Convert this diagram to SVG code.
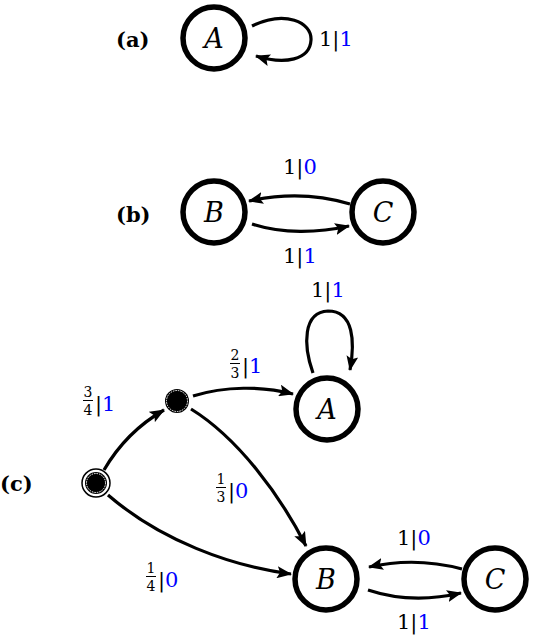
<svg xmlns="http://www.w3.org/2000/svg" width="540" height="638" viewBox="0 0 540 638">
<style>
.st{fill:#fff;stroke:#000;stroke-width:5.5}
.nm{font-family:"DejaVu Serif","Liberation Serif",serif;font-style:italic;font-size:27px;text-anchor:middle}
.lb{font-family:"DejaVu Serif","Liberation Serif",serif;font-size:21px}
.fr{font-family:"DejaVu Serif","Liberation Serif",serif;font-size:14px;text-anchor:middle}
.pl{font-family:"DejaVu Serif","Liberation Serif",serif;font-weight:bold;font-size:21px}
.b{fill:#0000ff}
.e{fill:none;stroke:#000;stroke-width:3.2;marker-end:url(#ah)}
.dot{fill:#000}
.ring{fill:none;stroke:#fff;stroke-width:1;stroke-dasharray:1.5 1}
</style>
<defs>
<marker id="ah" markerUnits="userSpaceOnUse" markerWidth="16" markerHeight="12" refX="14" refY="6" orient="auto">
<path d="M0,0 L15,6 L0,12 L3,6 Z" fill="#000"/>
</marker>
</defs>
<text class="pl" x="116" y="47">(a)</text>
<text class="pl" x="116" y="222">(b)</text>
<text class="pl" x="0" y="491">(c)</text>
<g id="connectors">
<path class="e" d="M252,26 C285,10 312,22 311,40 C310,60 285,65 256,56"/>
<path class="e" d="M350,204 C320,195 285,193 249,201"/>
<path class="e" d="M252,224 C282,234 318,233 349,226"/>
<path class="e" d="M313,373 C303,345 303,312 328,311 C354,311 355,342 350,370"/>
<path class="e" d="M104,470 C118,446 138,425 164,410"/>
<path class="e" d="M193,396 C225,386 262,386 293,394"/>
<path class="e" d="M191,409 C238,438 280,495 306,546"/>
<path class="e" d="M108,495 C160,540 230,566 291,574"/>
<path class="e" d="M462,569 C432,561 400,560 369,567"/>
<path class="e" d="M368,590 C398,600 431,600 461,593"/>
</g>
<g id="lbl-a"><text class="lb" x="319" y="46">1|<tspan class="b">1</tspan></text></g>
<g id="lbl-bc"><text class="lb" x="283" y="174">1|<tspan class="b">0</tspan></text></g>
<g id="lbl-cb"><text class="lb" x="283" y="263">1|<tspan class="b">1</tspan></text></g>
<g id="lbl-c-aa"><text class="lb" x="311" y="297">1|<tspan class="b">1</tspan></text></g>
<g id="lbl-c-34">
<text class="fr" x="88" y="397">3</text><rect x="83" y="400" width="10" height="1" fill="#000"/><text class="fr" x="88" y="415">4</text>
<text class="lb" x="95" y="411">|<tspan class="b">1</tspan></text></g>
<g id="lbl-c-23">
<text class="fr" x="235" y="360">2</text><rect x="230" y="363" width="10" height="1" fill="#000"/><text class="fr" x="235" y="378">3</text>
<text class="lb" x="242" y="373">|<tspan class="b">1</tspan></text></g>
<g id="lbl-c-13">
<text class="fr" x="221" y="484">1</text><rect x="216" y="487" width="10" height="1" fill="#000"/><text class="fr" x="221" y="502">3</text>
<text class="lb" x="228" y="498">|<tspan class="b">0</tspan></text></g>
<g id="lbl-c-14">
<text class="fr" x="151" y="573">1</text><rect x="146" y="576" width="10" height="1" fill="#000"/><text class="fr" x="151" y="591">4</text>
<text class="lb" x="158" y="587">|<tspan class="b">0</tspan></text></g>
<g id="lbl-c-cb"><text class="lb" x="397" y="545">1|<tspan class="b">0</tspan></text></g>
<g id="lbl-c-bc"><text class="lb" x="397" y="629">1|<tspan class="b">1</tspan></text></g>
<g id="node-a-A"><circle class="st" cx="214" cy="38" r="31"/><text class="nm" x="214" y="48">A</text></g>
<g id="node-b-B"><circle class="st" cx="214" cy="212" r="31"/><text class="nm" x="214" y="222">B</text></g>
<g id="node-b-C"><circle class="st" cx="383" cy="212" r="31"/><text class="nm" x="383" y="222">C</text></g>
<g id="node-c-A"><circle class="st" cx="327" cy="409" r="31"/><text class="nm" x="327" y="419">A</text></g>
<g id="node-c-B"><circle class="st" cx="326" cy="579" r="31"/><text class="nm" x="326" y="589">B</text></g>
<g id="node-c-C"><circle class="st" cx="495" cy="579" r="31"/><text class="nm" x="495" y="589">C</text></g>
<g id="node-c-mid"><circle class="dot" cx="177" cy="401" r="12"/><circle class="ring" cx="177" cy="401" r="10.5"/></g>
<g id="node-c-init"><circle cx="96" cy="483" r="14" fill="#fff" stroke="#000" stroke-width="1.5"/><circle class="dot" cx="96" cy="483" r="11"/><circle class="ring" cx="96" cy="483" r="9.5"/></g>
</svg>
